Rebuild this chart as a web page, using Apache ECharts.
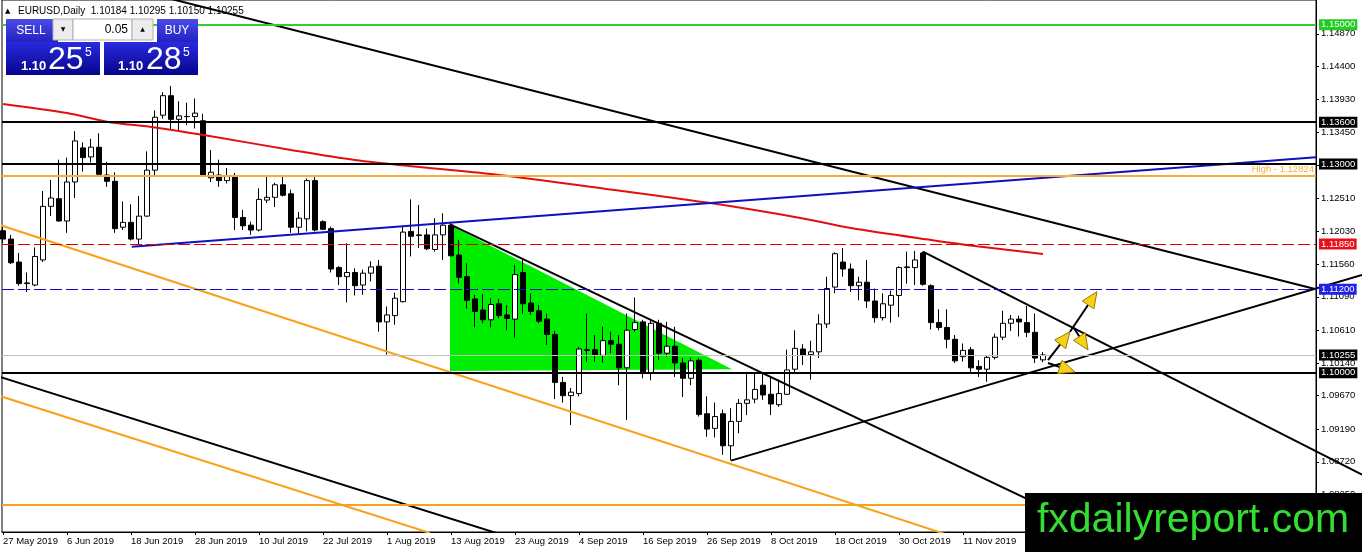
<!DOCTYPE html>
<html>
<head>
<meta charset="utf-8">
<script src="https://cdn.jsdelivr.net/npm/echarts@6.0.0/dist/echarts.min.js"></script>
<style>
    html, body { margin: 0; padding: 0; background: #fff; }
    #chart { width: 1362px; height: 552px; }
</style>
</head>
<body>
<div id="chart"></div>
<script>
    var FONT = '"Liberation Sans", Arial, sans-serif';

    // date ticks, every 8th daily bar from 27 May 2019
    var xTickIdx = [0, 8, 16, 24, 32, 40, 48, 56, 64, 72, 80, 88, 96, 104, 112, 120];
    var xLabels = ['27 May 2019', '6 Jun 2019', '18 Jun 2019', '28 Jun 2019', '10 Jul 2019', '22 Jul 2019',
        '1 Aug 2019', '13 Aug 2019', '23 Aug 2019', '4 Sep 2019', '16 Sep 2019', '26 Sep 2019',
        '8 Oct 2019', '18 Oct 2019', '30 Oct 2019', '11 Nov 2019'];
    var yTicks = [1.0825, 1.0872, 1.0919, 1.0967, 1.1014, 1.1061, 1.1109, 1.1156, 1.1203,
        1.1251, 1.1298, 1.1345, 1.1393, 1.1440, 1.1487];

    // EURUSD daily: open, close, low, high
    var bars = [
        [1.1204, 1.1192, 1.1186, 1.1210], [1.1192, 1.1158, 1.1156, 1.1198], [1.1159, 1.1128, 1.1125, 1.1172],
        [1.1128, 1.1129, 1.1116, 1.1144], [1.1126, 1.1167, 1.1124, 1.1180], [1.1162, 1.1239, 1.1159, 1.1261],
        [1.1239, 1.1251, 1.1225, 1.1277], [1.1250, 1.1218, 1.1217, 1.1306], [1.1218, 1.1274, 1.1201, 1.1309],
        [1.1274, 1.1333, 1.1251, 1.1347], [1.1323, 1.1309, 1.1289, 1.1331], [1.1310, 1.1324, 1.1302, 1.1336],
        [1.1324, 1.1285, 1.1284, 1.1344], [1.1284, 1.1275, 1.1267, 1.1303], [1.1275, 1.1207, 1.1201, 1.1288],
        [1.1209, 1.1216, 1.1205, 1.1246], [1.1216, 1.1192, 1.1190, 1.1242], [1.1192, 1.1225, 1.1184, 1.1254],
        [1.1225, 1.1291, 1.1224, 1.1318], [1.1291, 1.1367, 1.1284, 1.1377], [1.1370, 1.1398, 1.1365, 1.1403],
        [1.1398, 1.1364, 1.1350, 1.1412], [1.1364, 1.1369, 1.1348, 1.1390], [1.1368, 1.1368, 1.1356, 1.1388],
        [1.1368, 1.1373, 1.1351, 1.1394], [1.1362, 1.1283, 1.1282, 1.1372], [1.1280, 1.1288, 1.1274, 1.1320],
        [1.1284, 1.1276, 1.1267, 1.1306], [1.1276, 1.1283, 1.1272, 1.1294], [1.1282, 1.1223, 1.1205, 1.1287],
        [1.1223, 1.1211, 1.1205, 1.1234], [1.1212, 1.1205, 1.1198, 1.1217], [1.1205, 1.1249, 1.1203, 1.1265],
        [1.1248, 1.1252, 1.1244, 1.1284], [1.1252, 1.1270, 1.1238, 1.1273], [1.1270, 1.1255, 1.1253, 1.1283],
        [1.1257, 1.1209, 1.1201, 1.1263], [1.1209, 1.1222, 1.1200, 1.1231], [1.1221, 1.1276, 1.1203, 1.1279],
        [1.1276, 1.1205, 1.1203, 1.1282], [1.1217, 1.1206, 1.1205, 1.1219], [1.1207, 1.1149, 1.1144, 1.1210],
        [1.1151, 1.1138, 1.1126, 1.1153], [1.1138, 1.1144, 1.1101, 1.1186], [1.1144, 1.1125, 1.1111, 1.1150],
        [1.1126, 1.1143, 1.1112, 1.1148], [1.1143, 1.1152, 1.1131, 1.1160], [1.1153, 1.1073, 1.1059, 1.1162],
        [1.1073, 1.1083, 1.1026, 1.1095], [1.1082, 1.1107, 1.1069, 1.1115], [1.1102, 1.1202, 1.1101, 1.1211],
        [1.1203, 1.1196, 1.1167, 1.1249], [1.1198, 1.1197, 1.1179, 1.1241], [1.1198, 1.1178, 1.1176, 1.1207],
        [1.1177, 1.1198, 1.1174, 1.1222], [1.1198, 1.1212, 1.1162, 1.1229], [1.1212, 1.1168, 1.1167, 1.1215],
        [1.1169, 1.1137, 1.1128, 1.1191], [1.1138, 1.1104, 1.1092, 1.1157], [1.1106, 1.1088, 1.1065, 1.1112],
        [1.1090, 1.1076, 1.1071, 1.1113], [1.1076, 1.1098, 1.1065, 1.1107], [1.1099, 1.1082, 1.1078, 1.1106],
        [1.1083, 1.1078, 1.1061, 1.1097], [1.1077, 1.1141, 1.1050, 1.1155], [1.1144, 1.1099, 1.1085, 1.1162],
        [1.1100, 1.1088, 1.1083, 1.1114], [1.1089, 1.1074, 1.1071, 1.1097], [1.1077, 1.1055, 1.1040, 1.1085],
        [1.1055, 1.0986, 1.0962, 1.1060], [1.0986, 1.0967, 1.0957, 1.0994], [1.0967, 1.0972, 1.0925, 1.0978],
        [1.0970, 1.1034, 1.0966, 1.1037], [1.1033, 1.1032, 1.1016, 1.1085], [1.1033, 1.1026, 1.1016, 1.1054],
        [1.1025, 1.1046, 1.1014, 1.1066], [1.1046, 1.1041, 1.1028, 1.1059], [1.1041, 1.1007, 1.0982, 1.1054],
        [1.1007, 1.1061, 1.0932, 1.1085], [1.1062, 1.1072, 1.1059, 1.1108], [1.1073, 1.1000, 1.0992, 1.1076],
        [1.1000, 1.1071, 1.0989, 1.1076], [1.1071, 1.1028, 1.1018, 1.1076], [1.1028, 1.1038, 1.1023, 1.1073],
        [1.1038, 1.1014, 1.0994, 1.1066], [1.1014, 1.0992, 1.0965, 1.1021], [1.0992, 1.1017, 1.0982, 1.1022],
        [1.1018, 1.0940, 1.0937, 1.1021], [1.0941, 1.0919, 1.0908, 1.0966], [1.0920, 1.0937, 1.0907, 1.0957],
        [1.0941, 1.0895, 1.0882, 1.0947], [1.0895, 1.0930, 1.0874, 1.0949], [1.0930, 1.0956, 1.0913, 1.0962],
        [1.0956, 1.0961, 1.0939, 1.0999], [1.0962, 1.0976, 1.0956, 1.0999], [1.0982, 1.0968, 1.0961, 1.0999],
        [1.0969, 1.0955, 1.0939, 1.0995], [1.0954, 1.0970, 1.0951, 1.0990], [1.0969, 1.1004, 1.0968, 1.1033],
        [1.1005, 1.1035, 1.1000, 1.1061], [1.1034, 1.1025, 1.1011, 1.1041], [1.1026, 1.1030, 1.0990, 1.1046],
        [1.1030, 1.1070, 1.1021, 1.1084], [1.1070, 1.1121, 1.1064, 1.1138], [1.1123, 1.1171, 1.1114, 1.1173],
        [1.1159, 1.1149, 1.1138, 1.1179], [1.1149, 1.1125, 1.1116, 1.1157], [1.1125, 1.1130, 1.1104, 1.1138],
        [1.1130, 1.1103, 1.1093, 1.1162], [1.1103, 1.1079, 1.1072, 1.1121], [1.1079, 1.1099, 1.1075, 1.1114],
        [1.1097, 1.1111, 1.1072, 1.1118], [1.1111, 1.1151, 1.1080, 1.1153], [1.1151, 1.1152, 1.1128, 1.1174],
        [1.1151, 1.1162, 1.1126, 1.1175], [1.1172, 1.1127, 1.1125, 1.1174], [1.1125, 1.1072, 1.1062, 1.1127],
        [1.1072, 1.1065, 1.1061, 1.1091], [1.1065, 1.1048, 1.1035, 1.1091], [1.1048, 1.1017, 1.1014, 1.1054],
        [1.1023, 1.1032, 1.1016, 1.1042], [1.1033, 1.1007, 1.1001, 1.1037], [1.1009, 1.1005, 1.0994, 1.1018],
        [1.1005, 1.1022, 1.0987, 1.1025], [1.1022, 1.1051, 1.1019, 1.1056], [1.1051, 1.1071, 1.1047, 1.1089],
        [1.1071, 1.1077, 1.1060, 1.1083], [1.1077, 1.1073, 1.1052, 1.1082], [1.1072, 1.1058, 1.1051, 1.1096],
        [1.1058, 1.1021, 1.1014, 1.1085], [1.10184, 1.10255, 1.10150, 1.10295]
    ];

    // red moving average, read at some bars
    var maIdx = [0, 8, 13, 19, 26, 36, 44, 52, 62, 75, 88, 100, 106, 116, 122, 130];
    var maVal = [1.13861, 1.13731, 1.13606, 1.13523, 1.13397, 1.13200, 1.13056, 1.12955,
        1.12841, 1.12648, 1.12444, 1.12217, 1.12079, 1.11907, 1.11813, 1.11705];

    // trend lines: [bar index, price] pairs
    var downLong = [[20, 1.1540], [164.125, 1.1120]];
    var blueTrend = [[16.09, 1.11810], [164.125, 1.13095]];
    var augDown = [[55.875, 1.12132], [164.125, 1.06210]];
    var orangeUpper = [[-0.375, 1.12122], [124.625, 1.07424]];
    var orangeLower = [[-0.375, 1.09665], [53.375, 1.07697]];
    var blackLower = [[-0.375, 1.09938], [62.125, 1.07680]];
    // these two run past the price scale: x1, price1, x2, price2
    var wedgeLines = [
        [91, 1.08736, 169.875, 1.11405],
        [115, 1.11739, 169.875, 1.08534]
    ];

    // green triangle
    var triX = [55.875, 55.875, 91.125];
    var triY = [1.12122, 1.10024, 1.10049];

    // arrows: x1, price1, x2, price2
    var arrows = [
        [130.625, 1.10182, 133.375, 1.10589],
        [133.375, 1.10589, 136.75, 1.11164],
        [133.75, 1.10661, 135.625, 1.10326],
        [130.625, 1.10139, 134, 1.10010]
    ];

    // horizontal levels
    var levelGreen = 1.15;
    var levelsBlack = [1.136, 1.13, 1.10];
    var levelHigh = 1.12824;
    var levelRed = 1.1185;
    var levelBlue = 1.112;
    var levelBid = 1.10255;
    var levelOrangeLow = 1.081;

    var quote = ['1.10184', '1.10295', '1.10150', '1.10255'];

    function tag(bg) {
        return {
            show: true, position: 'end', distance: 3,
            formatter: function (p) { return Number(p.value).toFixed(5); },
            backgroundColor: bg, color: '#fff', fontSize: 9.5, fontFamily: FONT,
            padding: [1, 2, 0, 2], lineHeight: 10
        };
    }

    function trend(pts, color, width) {
        return {
            type: 'line', data: pts, symbol: 'none', silent: true, clip: true, z: 4,
            lineStyle: { color: color, width: width }
        };
    }

    var blueGrad = { type: 'linear', x: 0, y: 0, x2: 0, y2: 1,
        colorStops: [{ offset: 0, color: '#4b4be8' }, { offset: 1, color: '#2222c2' }] };
    var priceGrad = { type: 'linear', x: 0, y: 0, x2: 0, y2: 1,
        colorStops: [{ offset: 0, color: '#2a2ae0' }, { offset: 1, color: '#05058c' }] };

    function txt(x, y, s, font, fill, align, base, z) {
        return { type: 'text', x: x, y: y, z: z,
            style: { text: s, font: font, fill: fill, align: align, textAlign: align,
                verticalAlign: base, textVerticalAlign: base } };
    }

    var chart = echarts.init(document.getElementById('chart'));

    var option = {
        animation: false,
        textStyle: { fontFamily: FONT },
        grid: { left: 2, top: 0, right: 46, bottom: 20, show: true, borderColor: '#000', borderWidth: 1 },
        xAxis: {
            type: 'value', min: -0.125, max: 164.125, position: 'bottom',
            axisLine: { show: true, onZero: false, lineStyle: { color: '#000' } },
            axisTick: { show: true, customValues: xTickIdx, length: 3, lineStyle: { color: '#000' } },
            axisLabel: {
                customValues: xTickIdx, align: 'left', margin: 4, color: '#000', fontSize: 9.5,
                formatter: function (v) { return xLabels[xTickIdx.indexOf(Math.round(v))] || ''; }
            },
            splitLine: { show: false }
        },
        yAxis: {
            type: 'value', position: 'right', min: 1.07711, max: 1.15355,
            axisLine: { show: true, onZero: false, lineStyle: { color: '#000' } },
            axisTick: { show: true, customValues: yTicks, length: 3, lineStyle: { color: '#000' } },
            axisLabel: {
                customValues: yTicks, margin: 5, color: '#000', fontSize: 9.5,
                formatter: function (v) { return v.toFixed(5); }
            },
            splitLine: { show: false }
        },
        series: [
            {
                type: 'custom', silent: true, z: 1,
                data: [[triX[0], triY[0]]],
                renderItem: function (params, api) {
                    var pts = triX.map(function (x, k) { return api.coord([x, triY[k]]); });
                    return { type: 'polygon', shape: { points: pts }, style: { fill: '#00ee00' } };
                }
            },
            {
                type: 'candlestick', z: 3, barWidth: 5,
                data: bars.map(function (b, i) { return [i, b[0], b[1], b[2], b[3]]; }),
                encode: { x: 0, y: [1, 2, 3, 4] },
                itemStyle: { color: '#fff', color0: '#000', borderColor: '#000', borderColor0: '#000', borderWidth: 1 },
                markLine: {
                    silent: true, symbol: ['none', 'none'], precision: 5,
                    data: [
                        { yAxis: levelGreen, lineStyle: { color: '#33cc33', width: 2, type: 'solid' }, label: tag('#22cc22') },
                        { yAxis: levelsBlack[0], lineStyle: { color: '#000', width: 2, type: 'solid' }, label: tag('#000') },
                        { yAxis: levelsBlack[1], lineStyle: { color: '#000', width: 2, type: 'solid' }, label: tag('#000') },
                        { yAxis: levelHigh, lineStyle: { color: '#f5ad3a', width: 2, type: 'solid' },
                            label: { show: true, position: 'insideEndTop', distance: 2, color: '#f5ad3a',
                                fontSize: 9.5, formatter: 'High - 1.12824' } },
                        { yAxis: levelRed, lineStyle: { color: '#e00000', width: 1, type: [12, 4] }, label: tag('#e8101a') },
                        { yAxis: levelBlue, lineStyle: { color: '#1010c8', width: 1, type: [12, 4] }, label: tag('#2020e8') },
                        { yAxis: levelBid, lineStyle: { color: '#c0c0c0', width: 1, type: 'solid' }, label: tag('#000') },
                        { yAxis: levelsBlack[2], lineStyle: { color: '#000', width: 2, type: 'solid' }, label: tag('#000') },
                        { yAxis: levelOrangeLow, lineStyle: { color: '#f7a21b', width: 2, type: 'solid' }, label: { show: false } }
                    ]
                }
            },
            Object.assign(trend(maIdx.map(function (x, k) { return [x, maVal[k]]; }), '#e01010', 2), { smooth: 0.3 }),
            trend(downLong, '#000', 2),
            trend(blueTrend, '#1010c0', 2),
            trend(augDown, '#000', 2),
            trend(orangeUpper, '#f7a21b', 2),
            trend(orangeLower, '#f7a21b', 2),
            trend(blackLower, '#000', 2),
            {
                type: 'custom', silent: true, z: 4, clip: false,
                data: wedgeLines, encode: { x: [0, 2], y: [1, 3] },
                renderItem: function (params, api) {
                    var a = api.coord([api.value(0), api.value(1)]);
                    var b = api.coord([api.value(2), api.value(3)]);
                    return { type: 'line', shape: { x1: a[0], y1: a[1], x2: b[0], y2: b[1] },
                        style: { stroke: '#000', lineWidth: 2 } };
                }
            },
            {
                type: 'custom', silent: true, z: 6,
                data: arrows, encode: { x: [0, 2], y: [1, 3] },
                renderItem: function (params, api) {
                    var a = api.coord([api.value(0), api.value(1)]);
                    var b = api.coord([api.value(2), api.value(3)]);
                    var dx = b[0] - a[0], dy = b[1] - a[1];
                    var len = Math.sqrt(dx * dx + dy * dy), ux = dx / len, uy = dy / len;
                    var hl = 16, hw = 7;
                    var base = [b[0] - ux * hl, b[1] - uy * hl];
                    return {
                        type: 'group',
                        children: [
                            { type: 'line', shape: { x1: a[0], y1: a[1], x2: base[0], y2: base[1] },
                                style: { stroke: '#000', lineWidth: 2 } },
                            { type: 'polygon',
                                shape: { points: [b, [base[0] - uy * hw, base[1] + ux * hw], [base[0] + uy * hw, base[1] - ux * hw]] },
                                style: { fill: '#f7d117', stroke: '#9a7a00', lineWidth: 1 } }
                        ]
                    };
                }
            }
        ],
        graphic: [
            txt(5, 11, '\u25B2', '7px "DejaVu Sans"', '#000', 'left', 'middle', 1),
            txt(18, 11, 'EURUSD,Daily  ' + quote.join(' '), '10px ' + FONT, '#000', 'left', 'middle', 1),
            // one-click trading panel
            { type: 'rect', z: 100, shape: { x: 6, y: 19, width: 52, height: 23 }, style: { fill: blueGrad } },
            txt(31, 31, 'SELL', '12px ' + FONT, '#fff', 'center', 'middle', 101),
            { type: 'rect', z: 100, shape: { x: 157, y: 19, width: 41, height: 23 }, style: { fill: blueGrad } },
            txt(177, 31, 'BUY', '12px ' + FONT, '#fff', 'center', 'middle', 101),
            { type: 'rect', z: 100, shape: { x: 53, y: 19, width: 20, height: 21 }, style: { fill: '#ececec', stroke: '#b0b0b0' } },
            txt(63, 29.5, '\u25BC', '6px "DejaVu Sans"', '#000', 'center', 'middle', 101),
            { type: 'rect', z: 100, shape: { x: 73, y: 19, width: 59, height: 21 }, style: { fill: '#fff', stroke: '#b0b0b0' } },
            txt(128, 30, '0.05', '12px ' + FONT, '#000', 'right', 'middle', 101),
            { type: 'rect', z: 100, shape: { x: 132, y: 19, width: 21, height: 21 }, style: { fill: '#ececec', stroke: '#b0b0b0' } },
            txt(142.5, 29.5, '\u25B2', '6px "DejaVu Sans"', '#000', 'center', 'middle', 101),
            { type: 'rect', z: 100, shape: { x: 6, y: 42, width: 94, height: 33 }, style: { fill: priceGrad } },
            { type: 'rect', z: 100, shape: { x: 104, y: 42, width: 94, height: 33 }, style: { fill: priceGrad } },
            txt(21, 73, '1.10', 'bold 13px ' + FONT, '#fff', 'left', 'bottom', 101),
            txt(48, 76, '25', '32px ' + FONT, '#fff', 'left', 'bottom', 101),
            txt(85, 59, '5', '12px ' + FONT, '#fff', 'left', 'bottom', 101),
            txt(118, 73, '1.10', 'bold 13px ' + FONT, '#fff', 'left', 'bottom', 101),
            txt(146, 76, '28', '32px ' + FONT, '#fff', 'left', 'bottom', 101),
            txt(183, 59, '5', '12px ' + FONT, '#fff', 'left', 'bottom', 101),
            // watermark
            { type: 'rect', z: 100, shape: { x: 1025, y: 493, width: 337, height: 59 }, style: { fill: '#000' } },
            txt(1193, 521, 'fxdailyreport.com', '41px ' + FONT, '#33dd33', 'center', 'middle', 101)
        ]
    };

    chart.setOption(option);
</script>
</body>
</html>
